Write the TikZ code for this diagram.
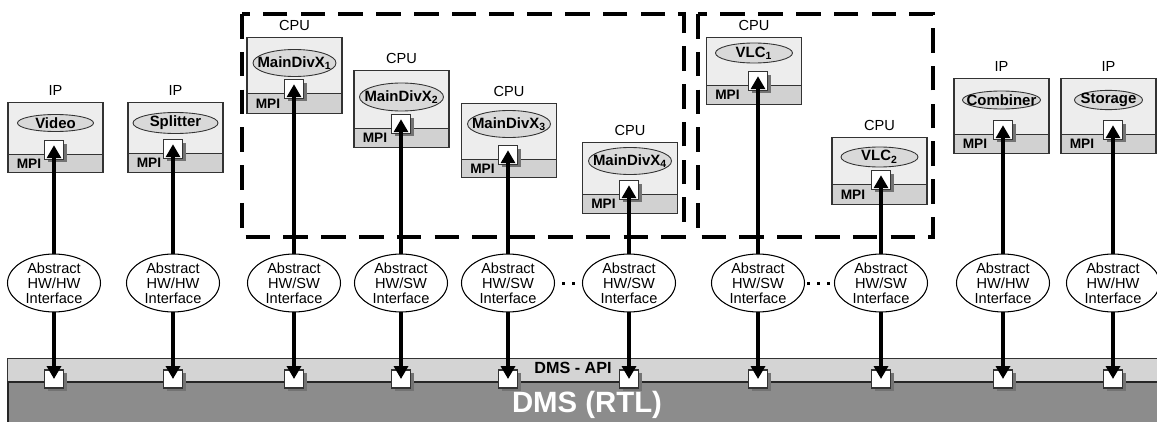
\documentclass[tikz,border=0pt]{standalone}
\usepackage{fontspec}
\setsansfont{Liberation Sans}
\usetikzlibrary{shapes.geometric, arrows.meta, positioning, shadows}

\begin{document}
\begin{tikzpicture}[
    x=0.2mm, y=-0.2mm, >={Triangle[length=2.6mm, width=2.8mm]},
    font=\sffamily\fontsize{8.3pt}{8.6pt}\selectfont,
    comp/.style={draw=black!80, fill=black!7, minimum width=19mm, inner sep=0pt, line width=0.6pt},
    band/.style={draw=black!80, fill=black!18, minimum width=19mm, inner sep=0pt, line width=0.6pt},
    task/.style={ellipse, draw=black!80, fill=black!15, inner sep=0pt, line width=0.5pt, font=\sffamily\bfseries\fontsize{8.5pt}{9pt}\selectfont},
    mpi/.style={anchor=west, inner sep=0pt, font=\sffamily\bfseries\fontsize{7.8pt}{8pt}\selectfont},
    port/.style={draw=black!80, fill=white, minimum width=3.8mm, minimum height=3.7mm, inner sep=0pt, line width=0.6pt, drop shadow={shadow xshift=0.6mm, shadow yshift=-0.6mm, fill=black!55, opacity=1}},
    iface/.style={ellipse, draw, fill=white, minimum width=18.6mm, minimum height=11.4mm, inner sep=0pt, align=center, line width=0.6pt},
    cluster/.style={draw, line width=2.3pt, dash pattern=on 14pt off 7.5pt},
    link/.style={->, line width=2.3pt}
]
    \useasboundingbox (0,0) rectangle (1157,422);

    % DMS bus
    \node[draw=black!80, fill=black!17, minimum width=231mm, minimum height=4.6mm, anchor=north west, inner sep=0pt, line width=0.6pt] (api) at (7,358) {};
    \node[draw=black!85, fill=black!45, minimum width=231mm, minimum height=9mm, anchor=north west, inner sep=0pt, line width=0.9pt] (rtl) at (7,381) {};
    \node[font=\sffamily\bfseries\fontsize{9.2pt}{10pt}\selectfont] (apilab) at (573,368) {DMS - API};
    \node[font=\sffamily\bfseries\fontsize{16.7pt}{18pt}\selectfont, text=white] (rtllab) at (587,405) {DMS (RTL)};

    % CPU subsystems
    \draw[cluster] (242,14) rectangle (684,237);
    \draw[cluster] (698,14) rectangle (933,237);

    % components, interfaces, links
    \foreach \n/\bx/\ax/\ty/\my/\by/\ey/\lab/\task/\ew/\eh/\kind in {
        video/55.5/54/102/154/172/123/IP/Video/15.2/3.4/HW,
        split/175.5/173/102/153/172/123/IP/Splitter/17/4.2/HW,
        mdx1/294.5/294/37/93/113/63/CPU/MainDivX\textsubscript{1}/16.6/5.4/SW,
        mdx2/401.5/401/70/128/147/97/CPU/MainDivX\textsubscript{2}/16.8/5.6/SW,
        mdx3/509/508/103/159/177/124/CPU/MainDivX\textsubscript{3}/16.6/5.4/SW,
        mdx4/630/629/142/194/213/161/CPU/MainDivX\textsubscript{4}/16.6/5.4/SW,
        vlc1/754/758/37/85/104/53/CPU/VLC\textsubscript{1}/15.4/4/SW,
        vlc2/879.5/881/137/184/204/157/CPU/VLC\textsubscript{2}/15.4/4/SW,
        comb/1001.5/1003/78/134/153/100/IP/Combiner/15.6/3.6/HW,
        stor/1108.5/1113/78/134/153/100/IP/Storage/13.6/3.6/HW} {
        \pgfmathsetmacro{\hh}{(\by-\ty)*0.2}
        \pgfmathsetmacro{\bh}{(\by-\my)*0.2}
        \node[comp, minimum height=\hh mm, anchor=north] (\n) at (\bx,\ty) {};
        \node[band, minimum height=\bh mm, anchor=south] (\n-band) at (\n.south) {};
        \node[mpi] (\n-mpi) at ([xshift=1.8mm]\n-band.west) {MPI};
        \node[above=0pt of \n] (\n-lab) {\lab};
        \node[task, minimum width=\ew mm, minimum height=\eh mm] (\n-task) at (\bx,\ey) {\makebox[0pt]{\task}};
        \node[port] (\n-port) at (\ax,\my-4) {};
        \node[iface] (\n-if) at (\ax,283) {Abstract\\HW/\kind\\Interface};
        \node[port, minimum height=3.6mm] (\n-bus) at (\ax,379) {};
        \draw[link] (\n-if.north) -- ([yshift=-1mm]\n-port.north);
        \draw[link] (\n-if.south) -- (\n-bus.center);
    }

    % dots between interfaces
    \fill (561.5,281.5) rectangle ++(3,3);
    \fill (571.5,281.5) rectangle ++(3,3);
    \fill (806.5,281.5) rectangle ++(3,3);
    \fill (816.5,281.5) rectangle ++(3,3);
    \fill (826.5,281.5) rectangle ++(3,3);
\end{tikzpicture}
\end{document}
